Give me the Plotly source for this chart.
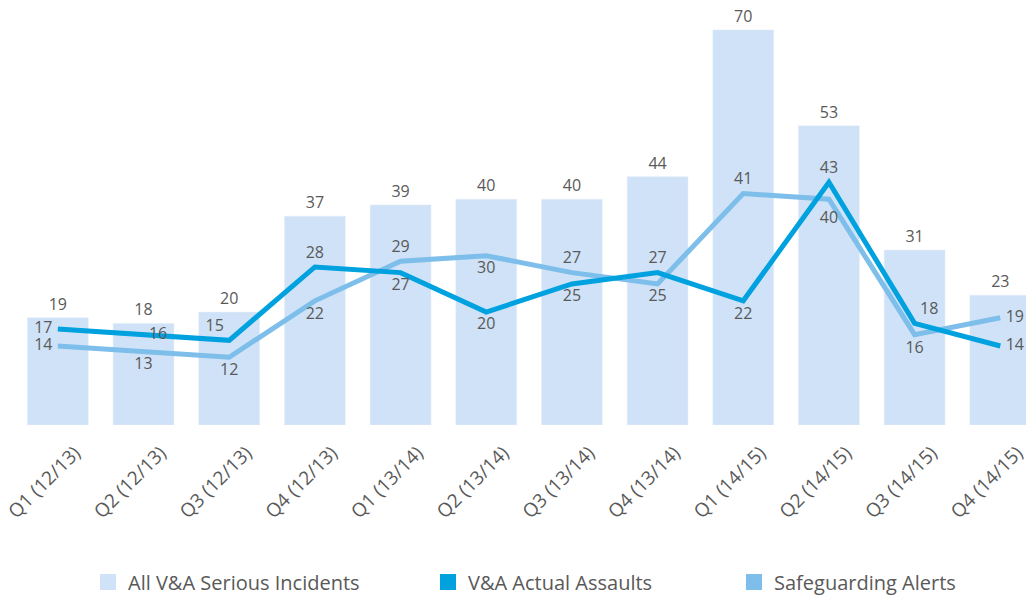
import plotly.graph_objects as go

quarters = ["Q1 (12/13)", "Q2 (12/13)", "Q3 (12/13)", "Q4 (12/13)",
            "Q1 (13/14)", "Q2 (13/14)", "Q3 (13/14)", "Q4 (13/14)",
            "Q1 (14/15)", "Q2 (14/15)", "Q3 (14/15)", "Q4 (14/15)"]
serious_incidents = [19, 18, 20, 37, 39, 40, 40, 44, 70, 53, 31, 23]
actual_assaults = [17, 16, 15, 28, 27, 20, 25, 27, 22, 43, 18, 14]
safeguarding_alerts = [14, 13, 12, 22, 29, 30, 27, 25, 41, 40, 16, 19]

assault_label_pos = ["middle left", "middle right", "top left", "top center",
                     "bottom center", "bottom center", "bottom center", "top center",
                     "bottom center", "top center", "top right", "middle right"]
alert_label_pos = ["middle left", "bottom center", "bottom center", "bottom center",
                   "top center", "bottom center", "top center", "bottom center",
                   "top center", "bottom center", "bottom center", "middle right"]
# invisible marker sizes: they set how far each point label sits from the line
assault_label_gap = [7, 7, 7, 7, 7, 7, 7, 7, 9, 7, 7, 7]
alert_label_gap = [7, 7, 7, 9, 7, 7, 7, 7, 7, 18, 9, 7]

BAR = "#cfe2f7"
ASSAULT = "#00a1df"
ALERT = "#7dbeea"
GREY = "#595959"
FONT = "Open Sans"
PLOT_LEFT, PLOT_WIDTH, PLOT_BOTTOM, PLOT_HEIGHT = 15, 1011, 425, 425

x = list(range(len(quarters)))
label_font = dict(color=GREY, size=16, family=FONT)

fig = go.Figure()
fig.add_trace(go.Bar(
    x=x, y=serious_incidents, name="All V&A Serious Incidents",
    marker_color=BAR, width=0.71,
    text=serious_incidents, textposition="outside", textfont=label_font,
    cliponaxis=False, showlegend=False,
))
fig.add_trace(go.Scatter(
    x=x, y=safeguarding_alerts, mode="lines+markers+text", name="Safeguarding Alerts",
    line=dict(color=ALERT, width=5), marker=dict(size=alert_label_gap, opacity=0),
    text=safeguarding_alerts, textposition=alert_label_pos, textfont=label_font,
    cliponaxis=False, showlegend=False,
))
fig.add_trace(go.Scatter(
    x=x, y=actual_assaults, mode="lines+markers+text", name="V&A Actual Assaults",
    line=dict(color=ASSAULT, width=5), marker=dict(size=assault_label_gap, opacity=0),
    text=actual_assaults, textposition=assault_label_pos, textfont=label_font,
    cliponaxis=False, showlegend=False,
))

# one legend per entry so each square swatch sits where it should
legend_entries = [("All V&A Serious Incidents", BAR, "legend", 88),
                  ("V&A Actual Assaults", ASSAULT, "legend2", 428),
                  ("Safeguarding Alerts", ALERT, "legend3", 734)]
legend_layout = {}
for name, color, legend_id, left_px in legend_entries:
    fig.add_trace(go.Bar(x=[None], y=[None], name=name, legend=legend_id,
                         marker=dict(color=color, line=dict(color=color, width=4)),
                         showlegend=True))
    legend_layout[legend_id] = dict(
        orientation="h", x=(left_px - PLOT_LEFT) / PLOT_WIDTH, xanchor="left",
        y=-(582 - PLOT_BOTTOM) / PLOT_HEIGHT, yanchor="middle",
        font=dict(size=20, color=GREY, family=FONT), bgcolor="rgba(0,0,0,0)",
    )

fig.update_layout(
    width=1026, height=597,
    margin=dict(l=PLOT_LEFT, r=0, t=0, b=597 - PLOT_BOTTOM, autoexpand=False),
    plot_bgcolor="white", paper_bgcolor="white",
    font=dict(family=FONT, color=GREY, size=16),
    barmode="overlay",
    xaxis=dict(
        tickmode="array", tickvals=x, ticktext=quarters, automargin=False,
        range=[-0.5, 11.3], tickangle=-45, showgrid=False, zeroline=False,
        showline=False, ticks="", tickfont=dict(size=19, color=GREY, family=FONT),
        ticklabelshift=17, ticklabelstandoff=12, ticklabeloverflow="allow",
    ),
    yaxis=dict(range=[0, 75.3], visible=False, automargin=False),
    **legend_layout,
)

fig.write_html("out.html")
